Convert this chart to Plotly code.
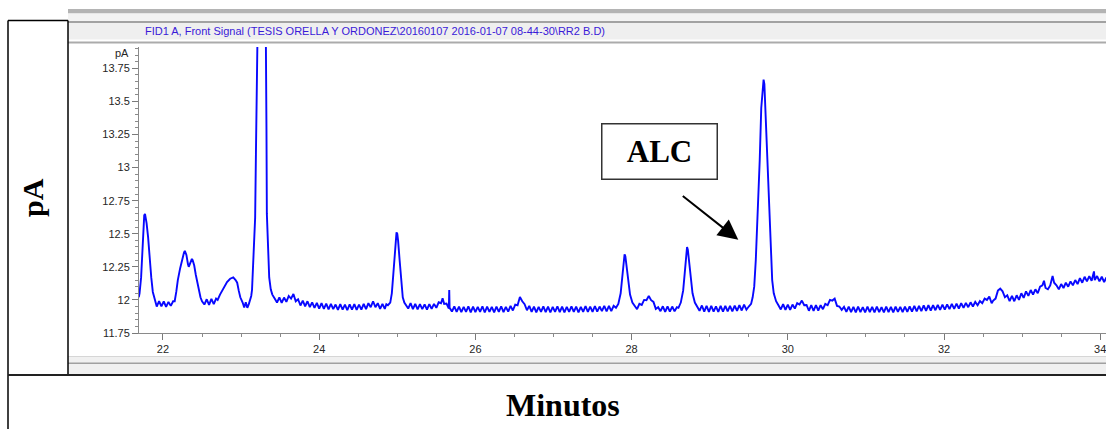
import plotly.graph_objects as go

# ---------------- data (time [min], signal [pA]) ----------------
PEAK_A = [(21.69, 12.02), (21.70, 12.05), (21.72, 12.17), (21.73, 12.30), (21.745, 12.55), (21.76, 12.64),
          (21.77, 12.65), (21.78, 12.62), (21.79, 12.58), (21.81, 12.47), (21.83, 12.30), (21.85, 12.17),
          (21.87, 12.06), (21.89, 12.01)]
BASE_1 = [(21.92, 11.95), (21.95, 11.99), (21.98, 11.952), (22.01, 11.988), (22.04, 11.948), (22.07, 11.985),
          (22.10, 11.955), (22.13, 11.99)]
PEAK_B = [(22.15, 11.99), (22.17, 12.06), (22.19, 12.15), (22.22, 12.24), (22.25, 12.32), (22.27, 12.36),
          (22.28, 12.37), (22.30, 12.34), (22.32, 12.27), (22.33, 12.25), (22.35, 12.28), (22.37, 12.31),
          (22.38, 12.30), (22.40, 12.26), (22.42, 12.19), (22.44, 12.13), (22.46, 12.06), (22.48, 12.02),
          (22.50, 11.99)]
BASE_2 = [(22.53, 11.965), (22.56, 12.005), (22.59, 11.962), (22.62, 12.008), (22.65, 11.968), (22.68, 12.01)]
PEAK_C = [(22.70, 12.0), (22.73, 12.04), (22.77, 12.08), (22.82, 12.135), (22.86, 12.16), (22.90, 12.17),
          (22.93, 12.15), (22.95, 12.13), (22.97, 12.07), (22.99, 12.02), (23.02, 11.98)]
BASE_3 = [(23.04, 11.942), (23.06, 11.982), (23.08, 11.94)]
PEAK_D = [(23.10, 11.97), (23.13, 12.03), (23.14, 12.075), (23.16, 12.30), (23.18, 12.62), (23.19, 13.1),
          (23.20, 13.9), (23.21, 14.6), (23.24, 15.8), (23.26, 16.2), (23.28, 15.8), (23.31, 14.6),
          (23.32, 13.95), (23.325, 13.3), (23.33, 12.65), (23.345, 12.4), (23.36, 12.17), (23.38, 12.08),
          (23.40, 12.04), (23.43, 12.01)]
BASE_4 = [(23.46, 11.98), (23.49, 12.02), (23.52, 11.978), (23.55, 12.018), (23.58, 11.985), (23.61, 12.03),
          (23.64, 12.01), (23.67, 12.045), (23.70, 11.99), (23.73, 12.005), (23.76, 11.958), (23.79, 11.995),
          (23.82, 11.952), (23.85, 11.99), (23.88, 11.945), (23.91, 11.982), (23.94, 11.94), (23.97, 11.978),
          (24.00, 11.935), (24.03, 11.975), (24.06, 11.932), (24.09, 11.972), (24.12, 11.928), (24.15, 11.97),
          (24.18, 11.93), (24.21, 11.965), (24.24, 11.925), (24.27, 11.968), (24.30, 11.926), (24.33, 11.965),
          (24.36, 11.922), (24.39, 11.966), (24.42, 11.927), (24.45, 11.968), (24.48, 11.925), (24.51, 11.964),
          (24.54, 11.926), (24.57, 11.97), (24.60, 11.93), (24.63, 11.975), (24.66, 11.945), (24.69, 11.99),
          (24.72, 11.945), (24.75, 11.975), (24.78, 11.932), (24.81, 11.97), (24.84, 11.932), (24.86, 11.968)]
PEAK_E = [(24.88, 11.96), (24.91, 11.98), (24.93, 12.05), (24.95, 12.2), (24.97, 12.4), (24.98, 12.48),
          (24.99, 12.51), (25.00, 12.50), (25.01, 12.45), (25.03, 12.3), (25.05, 12.12), (25.07, 12.02),
          (25.09, 11.98), (25.11, 11.965)]
BASE_5 = [(25.14, 11.935), (25.17, 11.975), (25.20, 11.93), (25.23, 11.97), (25.26, 11.928), (25.29, 11.968),
          (25.32, 11.93), (25.35, 11.966), (25.38, 11.926), (25.41, 11.968), (25.44, 11.932), (25.47, 11.97),
          (25.50, 11.94), (25.53, 11.982), (25.56, 11.975), (25.58, 12.012), (25.60, 11.97), (25.63, 11.972),
          (25.66, 11.935), (25.665, 12.075), (25.67, 11.94), (25.70, 11.912), (25.73, 11.952), (25.76, 11.91),
          (25.79, 11.95), (25.82, 11.908), (25.85, 11.948), (25.88, 11.91), (25.91, 11.952), (25.94, 11.906),
          (25.97, 11.95), (26.00, 11.908), (26.03, 11.948), (26.06, 11.91), (26.09, 11.952), (26.12, 11.905),
          (26.15, 11.95), (26.18, 11.91), (26.21, 11.948), (26.24, 11.906), (26.27, 11.95), (26.30, 11.91),
          (26.33, 11.952), (26.36, 11.908), (26.39, 11.948), (26.42, 11.912), (26.45, 11.955), (26.48, 11.92),
          (26.51, 11.965), (26.54, 11.96), (26.57, 12.022), (26.60, 11.99), (26.63, 11.968), (26.66, 11.922),
          (26.69, 11.955), (26.72, 11.91), (26.75, 11.95), (26.78, 11.906), (26.81, 11.948), (26.84, 11.91),
          (26.87, 11.952), (26.90, 11.908), (26.93, 11.95), (26.96, 11.905), (26.99, 11.948), (27.02, 11.91),
          (27.05, 11.952), (27.08, 11.908), (27.11, 11.95), (27.14, 11.906), (27.17, 11.948), (27.20, 11.91),
          (27.23, 11.952), (27.26, 11.91), (27.29, 11.95), (27.32, 11.906), (27.35, 11.948), (27.38, 11.91),
          (27.41, 11.954), (27.44, 11.91), (27.47, 11.95), (27.50, 11.91), (27.53, 11.954), (27.56, 11.912),
          (27.59, 11.95), (27.62, 11.915), (27.65, 11.955), (27.68, 11.914), (27.71, 11.955), (27.74, 11.916),
          (27.77, 11.955)]
PEAK_F = [(27.80, 11.94), (27.83, 11.97), (27.86, 12.05), (27.88, 12.17), (27.90, 12.31), (27.91, 12.345),
          (27.92, 12.33), (27.94, 12.24), (27.96, 12.12), (27.98, 12.04), (28.01, 11.98), (28.04, 11.955)]
BASE_6 = [(28.07, 11.93), (28.10, 11.97), (28.13, 11.962), (28.16, 12.0), (28.19, 11.998), (28.22, 12.03),
          (28.25, 11.998), (28.28, 11.985), (28.31, 11.932), (28.34, 11.945), (28.37, 11.915), (28.40, 11.952),
          (28.43, 11.91), (28.46, 11.952), (28.49, 11.912), (28.52, 11.95), (28.55, 11.914), (28.58, 11.945)]
PEAK_G = [(28.60, 11.94), (28.63, 11.98), (28.66, 12.07), (28.68, 12.2), (28.70, 12.36), (28.71, 12.40),
          (28.72, 12.38), (28.74, 12.28), (28.76, 12.14), (28.78, 12.05), (28.81, 11.98), (28.84, 11.95)]
BASE_7 = [(28.87, 11.918), (28.90, 11.958), (28.93, 11.912), (28.96, 11.955), (28.99, 11.91), (29.02, 11.955),
          (29.05, 11.912), (29.08, 11.952), (29.11, 11.91), (29.14, 11.955), (29.17, 11.912), (29.20, 11.955),
          (29.23, 11.914), (29.26, 11.955), (29.29, 11.914), (29.32, 11.956), (29.35, 11.918), (29.38, 11.96),
          (29.41, 11.92), (29.44, 11.964), (29.47, 11.926)]
PEAK_ALC = [(29.50, 11.95), (29.53, 11.97), (29.55, 12.02), (29.57, 12.1), (29.59, 12.3), (29.60, 12.43),
            (29.62, 12.7), (29.64, 13.05), (29.66, 13.45), (29.68, 13.64), (29.69, 13.665), (29.70, 13.63),
            (29.72, 13.35), (29.74, 13.05), (29.76, 12.7), (29.78, 12.43), (29.80, 12.15), (29.82, 12.05),
            (29.85, 11.99), (29.88, 11.96)]
BASE_8 = [(29.91, 11.928), (29.94, 11.968), (29.97, 11.925), (30.00, 11.965), (30.03, 11.925), (30.06, 11.965),
          (30.09, 11.935), (30.12, 11.975), (30.15, 11.965), (30.18, 11.995), (30.21, 11.96), (30.24, 11.962),
          (30.27, 11.918), (30.30, 11.96), (30.33, 11.918), (30.36, 11.96), (30.39, 11.92), (30.42, 11.96),
          (30.45, 11.93), (30.48, 11.97), (30.51, 11.96), (30.54, 12.0), (30.57, 11.995), (30.60, 12.01),
          (30.63, 11.955), (30.66, 11.95), (30.69, 11.925), (30.72, 11.948), (30.75, 11.91), (30.78, 11.95),
          (30.81, 11.908), (30.84, 11.948), (30.87, 11.906), (30.90, 11.95), (30.93, 11.908), (30.96, 11.946),
          (30.99, 11.905), (31.02, 11.95), (31.05, 11.908), (31.08, 11.948), (31.11, 11.906), (31.14, 11.95),
          (31.17, 11.908), (31.20, 11.946), (31.23, 11.906), (31.26, 11.95), (31.29, 11.908), (31.32, 11.948),
          (31.35, 11.906), (31.38, 11.95), (31.41, 11.91), (31.44, 11.948), (31.47, 11.908), (31.50, 11.95),
          (31.53, 11.91), (31.56, 11.952), (31.59, 11.912), (31.62, 11.955), (31.65, 11.914), (31.68, 11.955),
          (31.71, 11.915), (31.74, 11.958), (31.77, 11.918), (31.80, 11.96), (31.83, 11.92), (31.86, 11.96),
          (31.89, 11.922), (31.92, 11.962), (31.95, 11.925), (31.98, 11.965), (32.01, 11.926), (32.04, 11.966),
          (32.07, 11.93), (32.10, 11.97), (32.13, 11.932), (32.16, 11.972), (32.19, 11.935), (32.22, 11.975),
          (32.25, 11.94), (32.28, 11.978), (32.31, 11.945), (32.34, 11.982), (32.37, 11.95), (32.40, 11.985),
          (32.43, 11.96), (32.46, 11.992), (32.49, 11.975), (32.52, 12.01), (32.55, 12.0), (32.58, 12.025),
          (32.61, 11.975), (32.63, 11.995), (32.66, 12.01), (32.69, 12.07), (32.72, 12.085), (32.75, 12.065),
          (32.78, 12.02), (32.81, 12.035), (32.84, 11.99), (32.87, 12.03), (32.90, 11.99), (32.93, 12.035),
          (32.96, 12.0), (32.99, 12.05), (33.02, 12.015), (33.05, 12.065), (33.08, 12.03), (33.11, 12.075),
          (33.14, 12.04), (33.17, 12.08), (33.20, 12.05), (33.23, 12.1), (33.26, 12.11), (33.28, 12.145),
          (33.30, 12.09), (33.33, 12.08), (33.36, 12.11), (33.39, 12.18), (33.41, 12.13), (33.44, 12.11),
          (33.47, 12.08), (33.50, 12.12), (33.53, 12.09), (33.56, 12.13), (33.59, 12.1), (33.62, 12.14),
          (33.65, 12.11), (33.68, 12.15), (33.71, 12.12), (33.74, 12.165), (33.77, 12.13), (33.80, 12.175),
          (33.83, 12.14), (33.86, 12.18), (33.89, 12.145), (33.92, 12.215), (33.93, 12.15), (33.96, 12.18),
          (33.99, 12.14), (34.02, 12.175), (34.05, 12.135), (34.08, 12.17), (34.11, 12.14)]

SEGMENTS = [PEAK_A, BASE_1, PEAK_B, BASE_2, PEAK_C, BASE_3, PEAK_D, BASE_4, PEAK_E, BASE_5,
            PEAK_F, BASE_6, PEAK_G, BASE_7, PEAK_ALC, BASE_8]

TITLE = "FID1 A, Front Signal (TESIS ORELLA Y ORDONEZ\\20160107 2016-01-07 08-44-30\\RR2 B.D)"
X_RANGE = [21.693, 34.074]
Y_RANGE = [11.75, 13.911]
X_TICKS = [22, 24, 26, 28, 30, 32, 34]
Y_TICKS = [11.75, 12, 12.25, 12.5, 12.75, 13, 13.25, 13.5, 13.75]
Y_TICK_TEXT = ["11.75", "12", "12.25", "12.5", "12.75", "13", "13.25", "13.5", "13.75"]
PEAK_LABEL = "ALC"
X_LABEL = "Minutos"
Y_LABEL = "pA"

time_min = [p[0] for seg in SEGMENTS for p in seg]
signal_pa = [p[1] for seg in SEGMENTS for p in seg]

# ---------------- layout geometry ----------------
W, H = 1106, 429
L, R, T, B = 139, 0, 47, 96
PW, PH = W - L - R, H - T - B


def px(x):
    return (x - L) / PW


def py(y):
    return (H - B - y) / PH


fig = go.Figure()
fig.add_trace(go.Scatter(x=time_min, y=signal_pa, mode="lines",
                         line=dict(color="#0808ff", width=1.9), hoverinfo="skip"))

tick_font = dict(family="Liberation Sans, Arial, sans-serif", size=11, color="#262626")

fig.update_layout(
    width=W, height=H,
    margin=dict(l=L, r=R, t=T, b=B),
    paper_bgcolor="white", plot_bgcolor="white",
    showlegend=False,
    xaxis=dict(range=X_RANGE, tickmode="array", tickvals=X_TICKS, ticks="outside", ticklen=6,
               tickcolor="#7a7a7a", showline=True, linecolor="#8a8a8a", linewidth=1,
               showgrid=False, zeroline=False, tickfont=tick_font, ticklabeloverflow="allow",
               minor=dict(dtick=0.5, tick0=22, ticks="outside", ticklen=3, tickcolor="#8a8a8a")),
    yaxis=dict(range=Y_RANGE, tickmode="array", tickvals=Y_TICKS, ticktext=Y_TICK_TEXT,
               ticks="outside", ticklen=6, tickcolor="#7a7a7a", showline=True,
               linecolor="#8a8a8a", linewidth=1, showgrid=False, zeroline=False,
               tickfont=tick_font,
               minor=dict(dtick=0.05, tick0=11.75, ticks="outside", ticklen=3, tickcolor="#8a8a8a")),
)

shapes = []


def band(y0, y1, color, x0=68, x1=W):
    shapes.append(dict(type="rect", xref="paper", yref="paper", x0=px(x0), x1=px(x1),
                       y0=py(y1), y1=py(y0), fillcolor=color, line=dict(width=0), layer="below"))


def hline(y, x0, x1, color, width):
    shapes.append(dict(type="line", xref="paper", yref="paper", x0=px(x0), x1=px(x1),
                       y0=py(y), y1=py(y), line=dict(color=color, width=width)))


def vline(x, y0, y1, color, width):
    shapes.append(dict(type="line", xref="paper", yref="paper", x0=px(x), x1=px(x),
                       y0=py(y0), y1=py(y1), line=dict(color=color, width=width)))


# top window chrome
band(9, 13.5, "#b4b4b4")
band(13.5, 21, "#f3f3f3")
band(21, 23, "#a2a2a2")
band(23, 39.5, "#efefef")
band(41.5, 43.5, "#ababab")
# bottom window chrome
band(356.5, 374, "#f0f0f0")
band(356, 357, "#d6d6d6")
band(362.5, 364, "#a0a0a0")

# table borders
hline(20.5, 8, 68, "black", 1.5)
vline(8, 20.5, H, "black", 1.5)
vline(68, 20.5, 375, "black", 1.5)
hline(375, 8, W, "#222222", 2)

fig.update_layout(shapes=shapes)

serif = "Liberation Serif, Times New Roman, serif"
annotations = [
    dict(text=TITLE, xref="paper", yref="paper", x=px(143), y=py(31), xanchor="left", yanchor="middle",
         showarrow=False, font=dict(family="Liberation Sans, Arial, sans-serif", size=11, color="#3a1ad8")),
    dict(text="pA", xref="paper", yref="paper", x=px(131), y=py(52.5), xanchor="right", yanchor="middle",
         showarrow=False, font=tick_font),
    dict(text="<b>" + Y_LABEL + "</b>", xref="paper", yref="paper", x=px(33), y=py(198),
         xanchor="center", yanchor="middle", textangle=-90, showarrow=False,
         font=dict(family=serif, size=30, color="black")),
    dict(text="<b>" + X_LABEL + "</b>", xref="paper", yref="paper", x=px(563), y=py(405),
         xanchor="center", yanchor="middle", showarrow=False,
         font=dict(family=serif, size=32, color="black")),
    dict(text="<b>" + PEAK_LABEL + "</b>", xref="paper", yref="paper", x=px(659.5), y=py(151),
         xanchor="center", yanchor="middle", showarrow=False, width=114, height=54,
         bordercolor="#333333", borderwidth=1.5, borderpad=0, bgcolor="white",
         font=dict(family=serif, size=31, color="black")),
    dict(text="", x=29.366, y=12.454, xref="x", yref="y", ax=-57, ay=-45, axref="pixel", ayref="pixel",
         showarrow=True, arrowhead=2, arrowsize=2, arrowwidth=2, arrowcolor="black", standoff=0),
]
fig.update_layout(annotations=annotations)

fig.write_html("out.html", config={"displayModeBar": False},
               post_script="document.body.style.margin='0';document.body.style.padding='0';"
                           "document.body.style.overflow='hidden';")
